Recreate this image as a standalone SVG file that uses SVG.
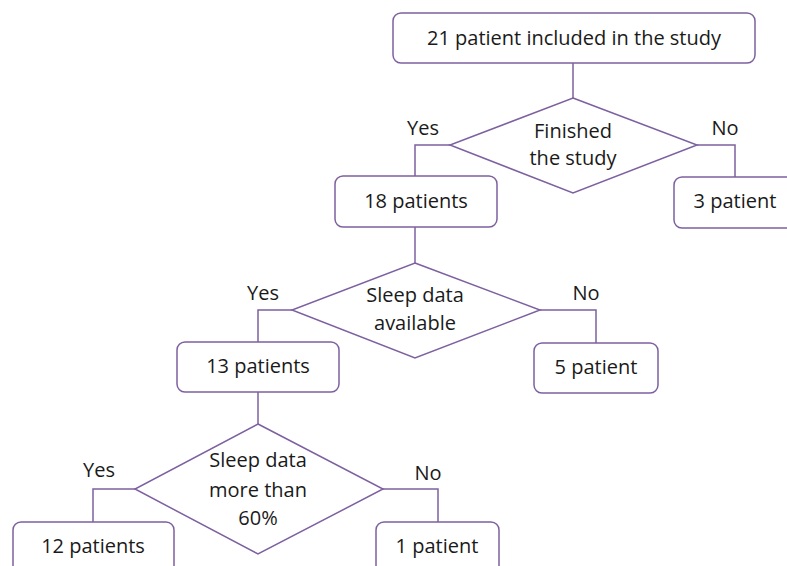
<svg xmlns="http://www.w3.org/2000/svg" width="787" height="566" viewBox="0 0 787 566">
<style>
.box{fill:#ffffff;stroke:#7d60a0;stroke-width:1.5}
.con{fill:none;stroke:#7d60a0;stroke-width:1.5}
text{font-family:"Open Sans","Liberation Sans",Arial,sans-serif;font-size:20px;fill:#1a1a1a;text-anchor:middle}
</style>
<rect width="787" height="566" fill="#ffffff"/>
<g id="connectors">
<path class="con" d="M573,63 V98"/>
<path class="con" d="M450,145 H415 V176"/>
<path class="con" d="M697,145 H735 V177"/>
<path class="con" d="M415,227 V263"/>
<path class="con" d="M292,310 H258 V342"/>
<path class="con" d="M540,310 H596 V343"/>
<path class="con" d="M258,392 V424"/>
<path class="con" d="M135,489 H93 V522"/>
<path class="con" d="M383,489 H438 V522"/>
</g>
<g id="n_start"><rect class="box" x="393" y="13" width="362" height="50" rx="8"/><text x="574" y="45">21 patient included in the study</text></g>
<g id="d_finished"><polygon class="box" points="573,98 697,145 573,193 450,145"/><text x="573" y="138">Finished</text><text x="573" y="165">the study</text></g>
<g id="l_yes1"><text x="423" y="135">Yes</text></g>
<g id="l_no1"><text x="725" y="135">No</text></g>
<g id="n_18"><rect class="box" x="335" y="176" width="162" height="51" rx="8"/><text x="416" y="208">18 patients</text></g>
<g id="n_3"><rect class="box" x="674" y="177" width="130" height="51" rx="8"/><text x="735" y="208">3 patient</text></g>
<g id="d_sleep"><polygon class="box" points="415,263 540,310 415,358 292,310"/><text x="415" y="302">Sleep data</text><text x="415" y="330">available</text></g>
<g id="l_yes2"><text x="263" y="300">Yes</text></g>
<g id="l_no2"><text x="586" y="300">No</text></g>
<g id="n_13"><rect class="box" x="177" y="342" width="162" height="50" rx="8"/><text x="258" y="373">13 patients</text></g>
<g id="n_5"><rect class="box" x="534" y="343" width="124" height="50" rx="8"/><text x="596" y="374">5 patient</text></g>
<g id="d_60"><polygon class="box" points="258,424 383,489 258,554 135,489"/><text x="258" y="467">Sleep data</text><text x="258" y="497">more than</text><text x="258" y="525">60%</text></g>
<g id="l_yes3"><text x="99" y="477">Yes</text></g>
<g id="l_no3"><text x="428" y="480">No</text></g>
<g id="n_12"><rect class="box" x="13" y="522" width="161" height="60" rx="8"/><text x="93" y="553">12 patients</text></g>
<g id="n_1"><rect class="box" x="376" y="522" width="123" height="60" rx="8"/><text x="437" y="553">1 patient</text></g>
</svg>
